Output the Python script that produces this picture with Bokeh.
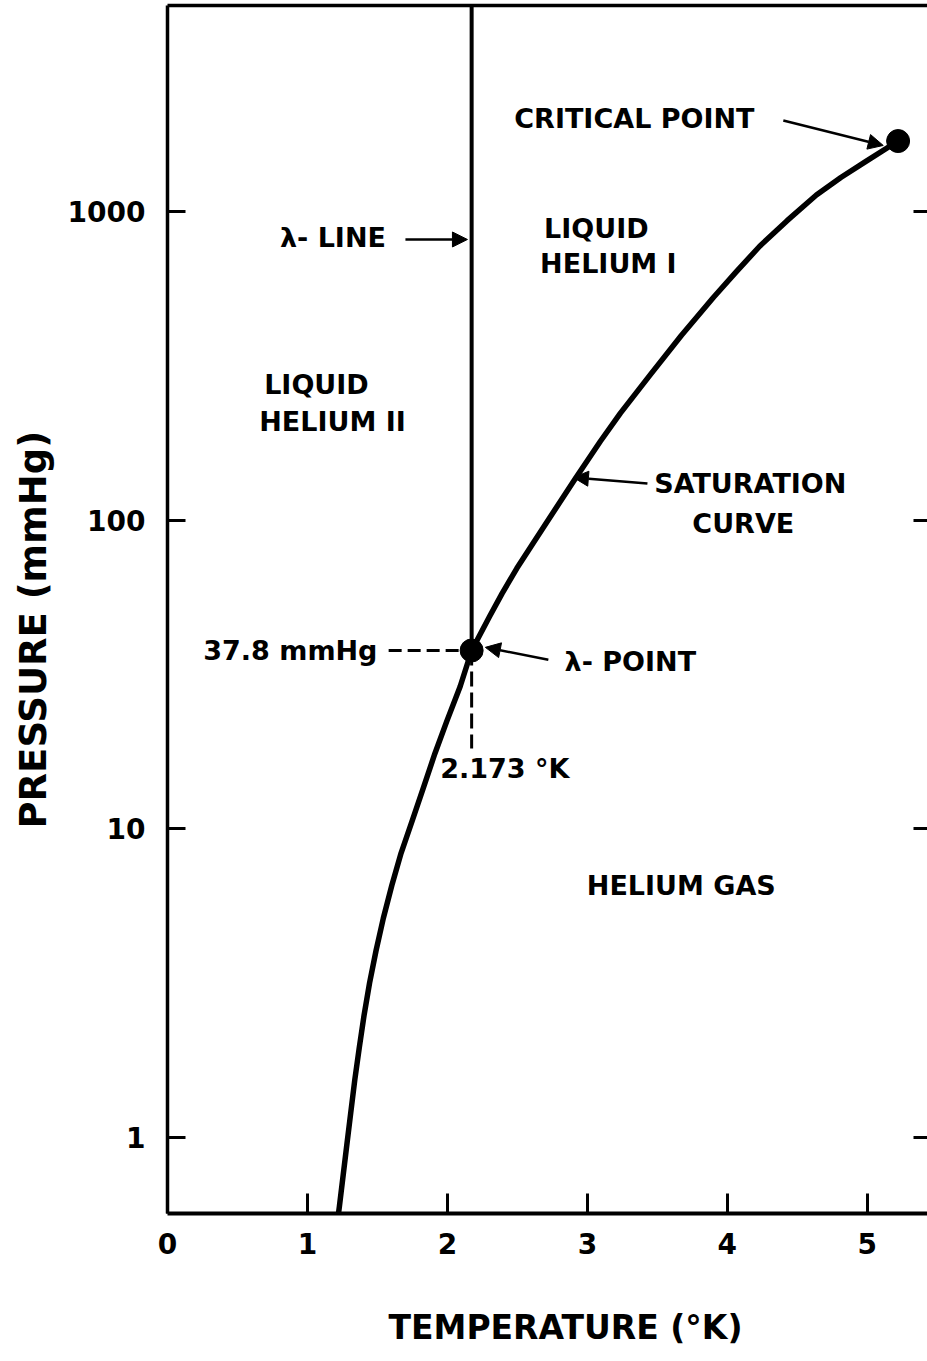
from bokeh.plotting import figure
from bokeh.models import (LogAxis, LinearAxis, FixedTicker, Label, Arrow,
                          NormalHead, Title)
from bokeh.embed import file_html
from bokeh.resources import INLINE

# Saturated vapour pressure of liquid helium-4 (temperature in K, pressure in mmHg)
sat_temperature = [1.218, 1.228, 1.281, 1.309, 1.338, 1.370, 1.404, 1.444,
                   1.490, 1.542, 1.603, 1.669, 1.748, 1.831, 1.910, 1.997,
                   2.091, 2.173, 2.301, 2.391, 2.496, 2.612, 2.768, 2.913,
                   3.093, 3.236, 3.450, 3.671, 3.900, 4.063, 4.231, 4.427,
                   4.636, 4.811, 4.993, 5.22]
sat_pressure = [0.551, 0.597, 0.944, 1.20, 1.535, 1.95, 2.48, 3.17,
                4.03, 5.13, 6.56, 8.34, 10.6, 13.7, 17.5, 22.4,
                28.9, 37.8, 48.7, 57.9, 69.8, 84.1, 108, 136,
                180, 222, 296, 396, 526, 637, 771, 933,
                1130, 1287, 1455, 1690]

# Lambda point and critical point
lambda_temperature = 2.173
lambda_pressure = 37.8
critical_temperature = 5.22
critical_pressure = 1690

# Axis ticks
x_ticks = [0, 1, 2, 3, 4, 5]
x_tick_labels = ["0", "1", "2", "3", "4", "5"]
y_ticks = [1, 10, 100, 1000]
y_tick_labels = ["1", "10", "100", "1000"]

T_MIN, T_MAX = 0.0, 5.43
P_MIN, P_MAX = 0.567, 4645.0

FONT = "DejaVu Sans"
INK = "black"

p = figure(width=927, height=1361,
           x_range=(T_MIN, T_MAX), y_range=(P_MIN, P_MAX),
           y_axis_type="log",
           output_backend="svg", toolbar_location=None,
           min_border_left=167, min_border_right=0,
           min_border_top=5, min_border_bottom=148)
p.grid.visible = False
p.outline_line_color = None
p.background_fill_color = "white"
p.border_fill_color = "white"

# bottom axis: inward ticks
xa = p.xaxis[0]
xa.ticker = FixedTicker(ticks=x_ticks)
xa.major_label_overrides = dict(zip(x_ticks, x_tick_labels))
xa.major_tick_in = 20
xa.major_tick_out = 0
xa.minor_tick_line_color = None
xa.axis_line_width = 4
xa.axis_line_color = INK
xa.major_tick_line_width = 3
xa.major_tick_line_color = INK
xa.major_label_standoff = 19
xa.major_label_text_font = FONT
xa.major_label_text_font_style = "bold"
xa.major_label_text_font_size = "28px"
xa.major_label_text_color = INK

# left axis: inward ticks, log scale
ya = p.yaxis[0]
ya.ticker = FixedTicker(ticks=y_ticks)
ya.major_label_overrides = dict(zip(y_ticks, y_tick_labels))
ya.major_tick_in = 18
ya.major_tick_out = 0
ya.minor_tick_line_color = None
ya.axis_line_width = 3.5
ya.axis_line_color = INK
ya.major_tick_line_width = 3
ya.major_tick_line_color = INK
ya.major_label_standoff = 22
ya.major_label_text_font = FONT
ya.major_label_text_font_style = "bold"
ya.major_label_text_font_size = "28px"
ya.major_label_text_color = INK

# top edge of the frame
top = LinearAxis(ticker=FixedTicker(ticks=[]), axis_line_width=3.5,
                 axis_line_color=INK, major_tick_in=0, major_tick_out=0,
                 minor_tick_in=0, minor_tick_out=0, major_label_standoff=0,
                 major_label_text_font_size="0px")
p.add_layout(top, "above")

# right side: inward ticks only
right = LogAxis(ticker=FixedTicker(ticks=y_ticks), axis_line_color=None,
                major_tick_in=14, major_tick_out=0, major_tick_line_width=3,
                major_tick_line_color=INK, minor_tick_line_color=None,
                major_label_standoff=0, major_label_text_font_size="0px",
                major_label_overrides={t: "" for t in y_ticks})
p.add_layout(right, "right")

# empty band between the temperature ticks and the axis title
gap = LinearAxis(ticker=FixedTicker(ticks=[]), axis_line_color=None,
                 major_tick_in=0, major_tick_out=0,
                 minor_tick_in=0, minor_tick_out=0,
                 major_label_standoff=0, major_label_text_font_size="0px",
                 axis_label=" ", axis_label_text_font_size="1px",
                 axis_label_standoff=45)
p.add_layout(gap, "below")

x_title = Title(text="TEMPERATURE (°K)", align="left", offset=221,
                vertical_align="top", standoff=4, text_font=FONT,
                text_font_style="bold", text_font_size="33px",
                text_color=INK)
p.add_layout(x_title, "below")

y_title = Title(text="PRESSURE (mmHg)", align="left", offset=385,
                vertical_align="middle", standoff=18, text_font=FONT,
                text_font_style="bold", text_font_size="37px",
                text_color=INK)
p.add_layout(y_title, "left")

# saturation curve
p.line(sat_temperature, sat_pressure, line_width=5.5, line_color=INK,
       line_join="round")

# lambda line: vertical from the lambda point to the top of the chart
p.line([lambda_temperature, lambda_temperature], [lambda_pressure, P_MAX],
       line_width=4, line_color=INK)

# dashed guides from the lambda point
p.line([1.58, lambda_temperature], [lambda_pressure, lambda_pressure],
       line_width=3, line_color=INK, line_dash="13 6")
p.line([lambda_temperature, lambda_temperature], [lambda_pressure, 18.2],
       line_width=3, line_color=INK, line_dash="15 6")

# lambda point and critical point
p.scatter([lambda_temperature, critical_temperature],
          [lambda_pressure, critical_pressure],
          size=23, fill_color=INK, line_color=INK)


def note(x, y, text, align="center"):
    p.add_layout(Label(x=x, y=y, text=text, text_align=align,
                       text_baseline="middle", text_font=FONT,
                       text_font_style="bold", text_font_size="27px",
                       text_color=INK))


def pointer(x0, y0, x1, y1):
    p.add_layout(Arrow(x_start=x0, y_start=y0, x_end=x1, y_end=y1,
                       line_width=2.5, line_color=INK,
                       end=NormalHead(size=15, fill_color=INK, line_color=INK,
                                      line_width=1)))


note(3.336, 1999, "CRITICAL POINT")
pointer(4.40, 1970, 5.114, 1635)

note(1.182, 823, "λ- LINE")
pointer(1.70, 811, 2.143, 811)

note(3.064, 880, "LIQUID")
note(3.150, 678, "HELIUM I")

note(1.064, 275, "LIQUID")
note(1.179, 208.6, "HELIUM II")

note(4.164, 131.4, "SATURATION")
note(4.114, 97.5, "CURVE")
pointer(3.429, 131.4, 2.90, 137.4)

note(3.307, 34.8, "λ- POINT")
pointer(2.721, 35.3, 2.271, 38.7)

note(1.50, lambda_pressure, "37.8 mmHg", align="right")
note(2.41, 15.7, "2.173 °K")

note(3.671, 6.55, "HELIUM GAS")

open("out.html", "w").write(file_html(p, INLINE))
